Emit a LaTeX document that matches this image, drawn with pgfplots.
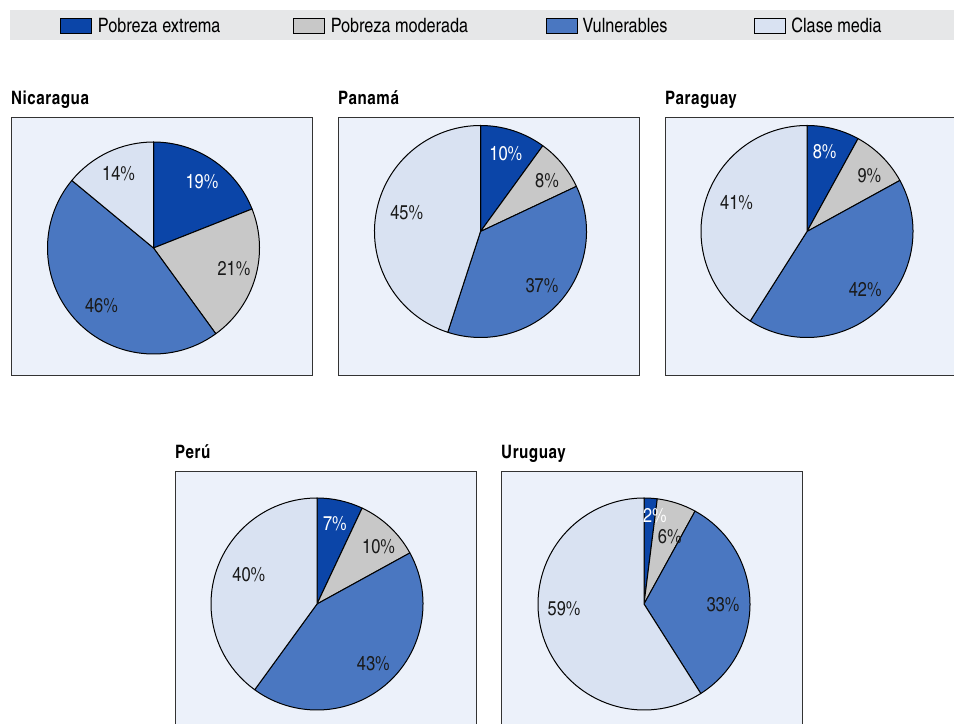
\documentclass[border=0pt]{standalone}
\usepackage{pgfplots}
\pgfplotsset{compat=1.18}
\usepackage{pgfplotstable}
\usepackage{fontspec}
\setmainfont{texgyreheroscn}[Extension=.otf, UprightFont=*-regular, BoldFont=*-bold, ItalicFont=*-italic, BoldItalicFont=*-bolditalic]

\definecolor{c0}{HTML}{0B45A8}
\definecolor{c1}{HTML}{C8C8C8}
\definecolor{c2}{HTML}{4A77C1}
\definecolor{c3}{HTML}{D9E2F2}
\definecolor{lc0}{HTML}{FFFFFF}
\definecolor{lc1}{HTML}{1A1A1A}
\definecolor{lc2}{HTML}{1A1A1A}
\definecolor{lc3}{HTML}{1A1A1A}
\definecolor{panelbg}{HTML}{ECF1FA}
\definecolor{legbg}{HTML}{E6E7E8}
\definecolor{framecol}{HTML}{333333}

% shares (%) clockwise from 12 o'clock: extrema, moderada, vulnerables, clase media
% dr, da: label placement nudges (radius in bp, clockwise angle in degrees)
\pgfplotstableread{
cat val dr da
ext 19 0 2
mod 21 1 -2
vul 46 -4 -5
med 14 0 0
}\tabNic
\pgfplotstableread{
cat val dr da
ext 10 0 0
mod 8 2 2
vul 37 0 0
med 45 -6 5
}\tabPan
\pgfplotstableread{
cat val dr da
ext 8 0 -2
mod 9 2 3
vul 42 0 -2
med 41 -6 6
}\tabPar
\pgfplotstableread{
cat val dr da
ext 7 0 0
mod 10 2 4
vul 43 0 -2
med 40 -8 5
}\tabPer
\pgfplotstableread{
cat val dr da
ext 2 7 3.4
mod 6 -10 3
vul 33 -3 2
med 59 -2 13
}\tabUru

\newcommand\piedraw[3]{%
\pgfplotsextra{%
 \xdef\acc{0}%
 \pgfplotstableforeachcolumnelement{val}\of#1\as\v{%
   \pgfmathsetmacro\aS{90-3.6*\acc}%
   \pgfmathsetmacro\aE{90-3.6*(\acc+\v)}%
   \filldraw[fill=c\pgfplotstablerow, draw=black, line width=1bp, line join=round]
     (axis cs:#2,#3) -- ++(\aS:106bp) arc[start angle=\aS, end angle=\aE, radius=106bp] -- cycle;
   \pgfmathsetmacro\tmp{\acc+\v}\xdef\acc{\tmp}%
 }%
 \xdef\acc{0}%
 \pgfplotstableforeachcolumnelement{val}\of#1\as\v{%
   \pgfplotstablegetelem{\pgfplotstablerow}{dr}\of#1\let\dr\pgfplotsretval
   \pgfplotstablegetelem{\pgfplotstablerow}{da}\of#1\let\da\pgfplotsretval
   \pgfmathsetmacro\aM{90-3.6*(\acc+\v/2)-\da}%
   \pgfmathsetmacro\rr{82+\dr}%
   \path (axis cs:#2,#3) ++(\aM:\rr bp) node[text=lc\pgfplotstablerow, inner sep=0pt,
     font=\fontsize{20bp}{22bp}\selectfont] {\v\%};
   \pgfmathsetmacro\tmp{\acc+\v}\xdef\acc{\tmp}%
 }%
}}

\pgfplotsset{
  panel/.style={
    scale only axis, width=301bp, height=258bp,
    anchor=south west,
    xmin=0, xmax=301, ymin=0, ymax=258,
    xtick=\empty, ytick=\empty,
    axis line style={draw=framecol, line width=1bp},
    axis background/.style={fill=panelbg},
    title style={at={(0,1)}, anchor=base west, inner sep=0pt, yshift=8bp,
      font=\fontsize{18.5bp}{21bp}\selectfont\bfseries\addfontfeatures{LetterSpace=3}},
  }
}

\begin{document}
\begin{tikzpicture}
\useasboundingbox (0,0) rectangle (954bp,724bp);
\clip (0,0) rectangle (954bp,724bp);

% legend band
\begin{axis}[
  scale only axis, width=950bp, height=30bp,
  at={(10bp,684bp)}, anchor=south west,
  xmin=10, xmax=960, ymin=0, ymax=30,
  xtick=\empty, ytick=\empty,
  axis line style={draw=none},
  axis background/.style={fill=legbg},
  legend columns=4,
  legend cell align=left,
  legend image code/.code={\draw[#1, line width=0.8bp] (0bp,-7.8bp) rectangle (31bp,7.8bp);},
  legend style={at={(axis cs:60,14)}, anchor=west, draw=none, fill=none,
    inner xsep=0pt, inner ysep=0pt, column sep=0pt,
    nodes={inner sep=0pt},
    font=\fontsize{19.8bp}{22bp}\selectfont},
]
\addlegendimage{fill=c0, draw=black}
\addlegendentry{\makebox[201bp][l]{\hspace*{6bp}Pobreza extrema}}
\addlegendimage{fill=c1, draw=black}
\addlegendentry{\makebox[221bp][l]{\hspace*{6bp}Pobreza moderada}}
\addlegendimage{fill=c2, draw=black}
\addlegendentry{\makebox[176bp][l]{\hspace*{5bp}Vulnerables}}
\addlegendimage{fill=c3, draw=black}
\addlegendentry{\hspace*{6bp}Clase media}
\end{axis}

\begin{axis}[panel, at={(11bp,348bp)}, title={Nicaragua}]
\piedraw{\tabNic}{142.5}{128}
\end{axis}

\begin{axis}[panel, at={(338bp,348bp)}, title={Panamá}]
\piedraw{\tabPan}{142.5}{144.5}
\end{axis}

\begin{axis}[panel, at={(665bp,348bp)}, title={Paraguay}]
\piedraw{\tabPar}{142}{144.5}
\end{axis}

\begin{axis}[panel, at={(175bp,-6bp)}, title={Perú}]
\piedraw{\tabPer}{142}{126}
\end{axis}

\begin{axis}[panel, at={(501bp,-6bp)}, title={Uruguay}]
\piedraw{\tabUru}{143}{126}
\end{axis}
\end{tikzpicture}
\end{document}
